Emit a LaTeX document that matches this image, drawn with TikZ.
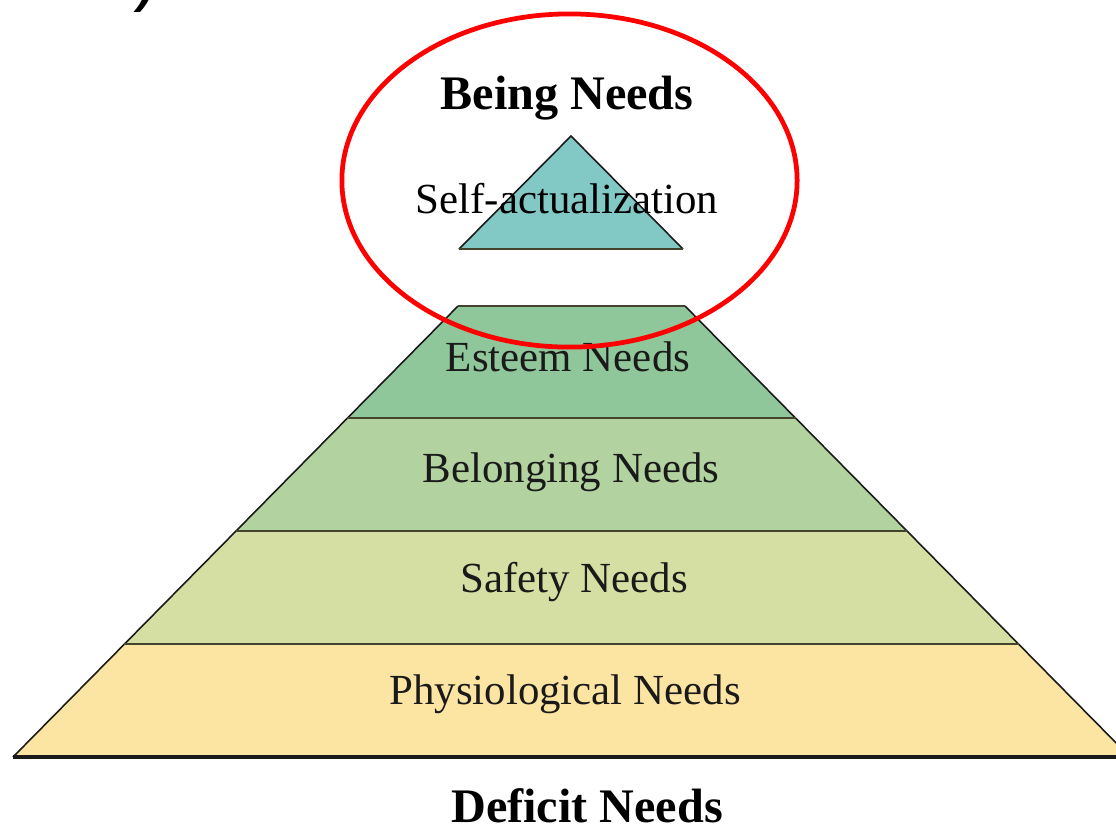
\documentclass[tikz,border=0pt]{standalone}
\usepackage{fontspec}
\setmainfont{Liberation Serif}
\newfontfamily\parenfont{Liberation Sans}
\usetikzlibrary{positioning}
\definecolor{selfcol}{HTML}{82C9C5}
\definecolor{esteemcol}{HTML}{8FC79B}
\definecolor{belongcol}{HTML}{B2D3A0}
\definecolor{safetycol}{HTML}{D6DFA3}
\definecolor{physcol}{HTML}{FCE4A3}
\definecolor{edgecol}{HTML}{1A1A1A}
\definecolor{sepcol}{HTML}{44442E}

\begin{document}
\begin{tikzpicture}[
		x=0.01cm, y=-0.01cm,
		slant/.style={draw=edgecol, line width=0.45pt},
		sepline/.style={draw=sepcol, line width=0.75pt},
		baseline/.style={draw=edgecol, line width=0.9pt},
		levelname/.style={font=\fontsize{12.2}{14}\selectfont, text=edgecol, inner sep=0pt, anchor=base},
		groupname/.style={font=\bfseries\fontsize{13.7}{16}\selectfont, inner sep=0pt, anchor=base},
		ring/.style={draw=red, line width=1.35pt}
	]
	\useasboundingbox (0,0) rectangle (1116,829);

	% lower pyramid, one band per level
	\foreach \ya/\yb/\col in {757/644/physcol, 644/531/safetycol, 531/418/belongcol, 418/306/esteemcol}{
			\fill[\col] ({13+(757-\ya)*0.9867},\ya) -- ({13+(757-\yb)*0.9867},\yb)
			-- ({1130-(757-\yb)*0.9867},\yb) -- ({1130-(757-\ya)*0.9867},\ya) -- cycle;
		}
	\coordinate (bl) at (13,757);
	\coordinate (br) at (1130,757);
	\coordinate (tl) at (458,306);
	\coordinate (tr) at (685,306);
	\draw[slant] (bl) -- (tl);
	\draw[slant] (br) -- (tr);
	\foreach \yb in {644, 531, 418}{
			\draw[sepline] ({13+(757-\yb)*0.9867},\yb) -- ({1130-(757-\yb)*0.9867},\yb);
		}
	\draw[sepline] (tl) -- (tr);
	\draw[baseline] (bl) -- (br);

	% top triangle
	\coordinate (apex) at (571,136);
	\coordinate (sl) at (459,249);
	\coordinate (sr) at (683,249);
	\fill[selfcol] (apex) -- (sl) -- (sr) -- cycle;
	\draw[slant] (sl) -- (apex) -- (sr);
	\draw[sepline] (sl) -- (sr);

	% labels
	\node[groupname] (being) at (567,109) {Being Needs};
	\node[levelname, text=black] (self) at (567,213) {Self-actualization};
	\node[levelname] (esteem) at (568,371) {Esteem Needs};
	\node[levelname] (belong) at (571,482) {Belonging Needs};
	\node[levelname] (safety) at (574,592) {Safety Needs};
	\node[levelname] (phys) at (565,704) {Physiological Needs};
	\node[groupname] (deficit) at (587,822) {Deficit Needs};

	% highlight
	\draw[ring] (569.5,180.5) ellipse [x radius=2.275cm, y radius=1.665cm];

	\node[font=\parenfont\fontsize{22}{24}\selectfont, inner sep=0pt, anchor=south] (paren) at (146,13) {)};
\end{tikzpicture}
\end{document}
